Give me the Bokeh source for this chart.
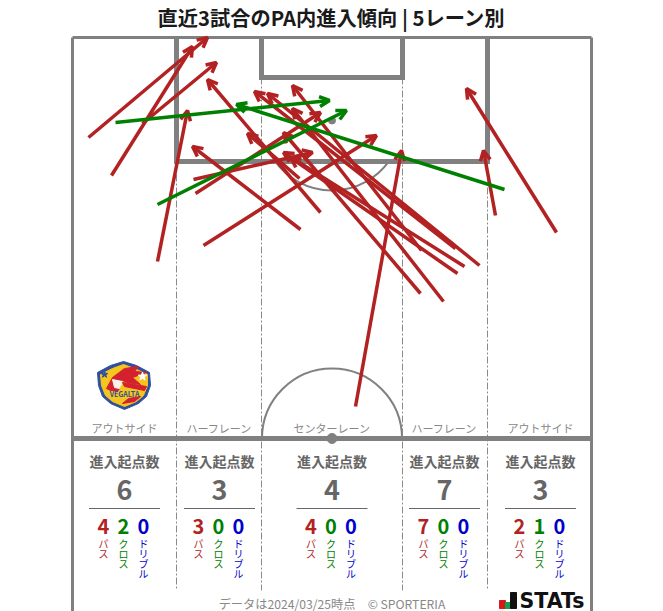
from bokeh.plotting import figure
from bokeh.models import Range1d, ColumnDataSource, Arrow, OpenHead
from bokeh.core.properties import value
from bokeh.embed import file_html
from bokeh.resources import INLINE

W, H = 663, 611
FONT = value("Noto Sans CJK JP")
GRAY = "#808080"
RED, GREEN, BLUE = "#b22222", "#008000", "#0000cd"

title = "直近3試合のPA内進入傾向 | 5レーン別"
footer = "データは2024/03/25時点　© SPORTERIA"
lanes = ["アウトサイド", "ハーフレーン", "センターレーン", "ハーフレーン", "アウトサイド"]
lane_x = [124, 219, 331.5, 444, 540]
pass_counts = [4, 3, 4, 7, 2]
cross_counts = [2, 0, 0, 0, 1]
dribble_counts = [0, 0, 0, 0, 0]
totals = [6, 3, 4, 7, 3]

pass_x0 = [88, 111, 142, 157, 193, 195, 203, 300, 320, 299, 355, 479, 455, 464, 457, 421, 443, 420, 556, 495]
pass_y0 = [137, 175, 123, 261, 179, 193, 245, 229, 212, 178, 406, 265, 248, 266, 273, 250, 301, 293, 232, 215]
pass_x1 = [207, 192, 216, 187, 312, 320, 376, 192, 207, 247, 401, 267, 254, 283, 290, 292, 292, 283, 466, 483]
pass_y1 = [37, 46, 62, 110, 152, 112, 135, 146, 79, 133, 150, 93, 91, 152, 157, 85, 108, 132, 88, 150]

cross_x0 = [115, 157, 504]
cross_y0 = [122, 204, 189]
cross_x1 = [329, 346, 236]
cross_y1 = [100, 110, 104]

p = figure(width=W, height=H, x_range=Range1d(0, W), y_range=Range1d(H, 0),
           x_axis_type=None, y_axis_type=None, toolbar_location=None,
           output_backend="svg", min_border=0, outline_line_color=None,
           background_fill_color="white", border_fill_color="white")
p.grid.visible = False


def txt(x, y, s, size, color, bold=False, align="center", baseline="middle", font=FONT):
    p.text([x], [y], text=[s], text_font=font, text_font_size=f"{size}px", text_color=color,
           text_align=align, text_baseline=baseline,
           text_font_style="bold" if bold else "normal")


# lane separators
p.segment([176, 261, 402, 487], [161, 77, 77, 161], [176, 261, 402, 487], [590] * 4,
          line_color="#8a8a8a", line_width=1, line_dash="7 2 2 2")

# pitch
p.multi_line([[72, 72], [591, 591], [72, 591]], [[37, 611], [37, 611], [37, 37]], line_color=GRAY, line_width=3)
p.line([72, 591], [438, 438], line_color=GRAY, line_width=5)
p.line([176, 176, 487, 487], [37, 161, 161, 37], line_color=GRAY, line_width=5, line_join="miter")
p.line([261, 261, 402, 402], [37, 77, 77, 37], line_color=GRAY, line_width=5, line_join="miter")
p.arc([331.5], [120], radius=70, start_angle=-0.623, end_angle=-2.518,
      direction="clock", line_color=GRAY, line_width=2)
p.arc([331.5], [438], radius=70, start_angle=3.1416, end_angle=0, direction="clock", line_color=GRAY, line_width=2)
p.scatter([331.5, 331.5], [120, 438], size=[7, 10], color=GRAY)

# crest
p.patch([123, 136, 149, 150, 146, 138, 124, 110, 102, 98, 97, 110],
        [361, 365, 372, 385, 396, 403, 409, 403, 396, 385, 372, 365], color="#2f4f9f")
p.patch([123, 134, 147, 147, 143, 136, 124, 112, 105, 101, 100, 112],
        [364, 368, 374, 385, 395, 401, 406, 401, 395, 385, 374, 368], color="#f6c51d")
p.patch([106, 112, 124, 138, 134, 146, 132, 140, 126, 122, 118, 110, 106],
        [388, 377, 368, 366, 371, 372, 377, 384, 382, 380, 390, 390, 388], color="#d4202f")
p.patch([112, 122, 119, 114], [379, 381, 388, 387], color="#f7f3e8")
p.patch([122, 146, 144, 124], [382, 386, 390, 386], color="#d4202f")
p.patch([128, 140, 134, 122], [398, 396, 401, 403], color="#d4202f")
p.scatter([104], [374], marker="star", size=7, color="#2f4f9f")
p.scatter([142], [376], marker="star", size=9, color="white")
txt(124, 393, "VEGALTA", 7, "#2f4f9f", bold=True)

# title, footer
txt(331, 16.5, title, 20.25, "#1a1a1a", bold=True)
txt(331.5, 603, footer, 12.2, "#888888")

# stats columns
label_rows = [("パス", RED, pass_counts, -20), ("クロス", GREEN, cross_counts, 0),
              ("ドリブル", BLUE, dribble_counts, 20)]
for i, cx in enumerate(lane_x):
    txt(cx, 427.5, lanes[i], 11, "#888888")
    txt(cx, 460.5, "進入起点数", 14, "#666666", bold=True)
    txt(cx, 489.5, str(totals[i]), 27, "#666666", bold=True)
    p.line([cx - 35.5, cx + 35.5], [508, 508], line_color="#666666", line_width=1)
    for word, col, counts, dx in label_rows:
        txt(cx + dx - 1, 525.5, str(counts[i]), 20, col, bold=True)
        for k, ch in enumerate(word):
            txt(cx + dx - 1, 542.5 + 10 * k, ch, 10, col)

# STATS logo
logo_l = [499, 505, 510]
logo_r = [505, 510, 516]
logo_t = [600, 602, 592]
logo_c = ["#d7191c", "#12a150", "#111111"]
p.quad(left=logo_l, right=logo_r, top=logo_t, bottom=[608, 608, 608], color=logo_c)
txt(519, 600, "STATs", 20.5, "#111111", bold=True, align="left", font=value("DejaVu Sans"))

# arrows
for xs0, ys0, xs1, ys1, col in [(pass_x0, pass_y0, pass_x1, pass_y1, RED),
                                (cross_x0, cross_y0, cross_x1, cross_y1, GREEN)]:
    src = ColumnDataSource(dict(x0=xs0, y0=ys0, x1=xs1, y1=ys1))
    p.add_layout(Arrow(end=OpenHead(size=10, line_color=col, line_width=3.5), x_start="x0", y_start="y0",
                       x_end="x1", y_end="y1", source=src, line_color=col, line_width=3.5))

open("out.html", "w").write(file_html(p, INLINE))
